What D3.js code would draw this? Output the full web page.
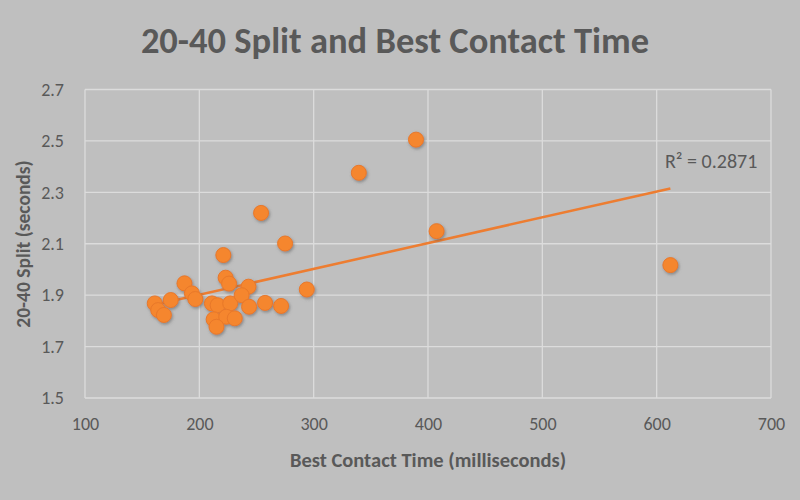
<!DOCTYPE html>
<html>
<head>
<meta charset="utf-8">
<script src="https://cdn.jsdelivr.net/npm/d3@7/dist/d3.min.js"></script>
<style>
  html, body { margin: 0; padding: 0; background: #bfbfbf; }
  svg { display: block; }
  text { font-family: "Carlito", "Lato", sans-serif; fill: #595959; }
</style>
</head>
<body>
<svg id="chart" width="800" height="500"></svg>
<script>
// Best contact time (ms)
const contactTime = [161, 164, 169, 175, 187, 193.5, 196.5, 211, 216, 227,
  212.5, 223.5, 231, 215, 221, 223, 226, 243, 237, 243.5,
  257.5, 271.5, 275, 294, 254, 339.5, 389.5, 407.5, 612];
// 20-40 split (seconds)
const split = [1.868, 1.842, 1.823, 1.881, 1.946, 1.907, 1.885, 1.868, 1.861, 1.868,
  1.806, 1.816, 1.810, 1.777, 2.056, 1.968, 1.945, 1.933, 1.900, 1.855,
  1.870, 1.858, 2.101, 1.922, 2.220, 2.376, 2.505, 2.149, 2.017];
const xTicks = [100, 200, 300, 400, 500, 600, 700];
const yTicks = [1.5, 1.7, 1.9, 2.1, 2.3, 2.5, 2.7];
const titleText = "20-40 Split and Best Contact Time";
const xTitle = "Best Contact Time (milliseconds)";
const yTitle = "20-40 Split (seconds)";
const r2Label = "R² = 0.2871";

const FONT = '"Carlito", "Lato", sans-serif';
const svg = d3.select("#chart");
const margin = { left: 85, right: 29, top: 89.5, bottom: 102 };
const W = 800, H = 500;
const x = d3.scaleLinear().domain([100, 700]).range([margin.left, W - margin.right]);
const y = d3.scaleLinear().domain([1.5, 2.7]).range([H - margin.bottom, margin.top]);

svg.append("rect").attr("width", W).attr("height", H).attr("fill", "#bfbfbf");

const defs = svg.append("defs");
const f = defs.append("filter").attr("id", "shadow").attr("x", "-50%").attr("y", "-50%").attr("width", "200%").attr("height", "200%");
f.append("feDropShadow").attr("dx", 1).attr("dy", 1.5).attr("stdDeviation", 1.5)
  .attr("flood-color", "#555").attr("flood-opacity", 0.55);

// gridlines
svg.append("g").selectAll("line").data(yTicks).join("line")
  .attr("x1", x(100)).attr("x2", x(700))
  .attr("y1", d => y(d)).attr("y2", d => y(d))
  .attr("stroke", "#dcdcdc").attr("stroke-width", 1.3);
svg.append("g").selectAll("line").data(xTicks).join("line")
  .attr("y1", y(1.5)).attr("y2", y(2.7))
  .attr("x1", d => x(d)).attr("x2", d => x(d))
  .attr("stroke", "#dcdcdc").attr("stroke-width", 1.3);

// axes (labels only)
const xAxis = d3.axisBottom(x).tickValues(xTicks).tickSize(0).tickPadding(19).tickFormat(d3.format("d"));
const gx = svg.append("g").attr("transform", `translate(0,${y(1.5)})`).call(xAxis);
gx.select(".domain").remove();
gx.selectAll("text").attr("font-size", 18).attr("fill", "#595959").style("font-family", FONT);

const yAxis = d3.axisLeft(y).tickValues(yTicks).tickSize(0).tickPadding(21).tickFormat(d3.format(".1f"));
const gy = svg.append("g").attr("transform", `translate(${x(100)},0)`).call(yAxis);
gy.select(".domain").remove();
gy.selectAll("text").attr("font-size", 18).attr("fill", "#595959").style("font-family", FONT);

// trendline (least squares)
const n = contactTime.length;
const mx = d3.mean(contactTime), my = d3.mean(split);
let sxy = 0, sxx = 0;
for (let i = 0; i < n; i++) { sxy += (contactTime[i] - mx) * (split[i] - my); sxx += (contactTime[i] - mx) ** 2; }
const slope = sxy / sxx, intercept = my - slope * mx;
const x0 = d3.min(contactTime), x1 = d3.max(contactTime);
svg.append("line")
  .attr("x1", x(x0)).attr("y1", y(intercept + slope * x0))
  .attr("x2", x(x1)).attr("y2", y(intercept + slope * x1))
  .attr("stroke", "#ED7D31").attr("stroke-width", 2.5);

// points
const pts = contactTime.map((c, i) => ({ c, s: split[i] }));
svg.append("g").attr("filter", "url(#shadow)").selectAll("circle").data(pts).join("circle")
  .attr("cx", d => x(d.c)).attr("cy", d => y(d.s)).attr("r", 7.5)
  .attr("fill", "#F5862E").attr("stroke", "#E8782A").attr("stroke-width", 1);

// titles
svg.append("text").attr("x", 395).attr("y", 53).attr("text-anchor", "middle")
  .attr("font-size", 36.5).attr("font-weight", "bold").text(titleText);
svg.append("text").attr("x", 428).attr("y", 467).attr("text-anchor", "middle")
  .attr("font-size", 20.5).attr("font-weight", "bold").text(xTitle);
svg.append("text").attr("transform", "translate(30,244) rotate(-90)").attr("text-anchor", "middle")
  .attr("font-size", 19.5).attr("font-weight", "bold").text(yTitle);
svg.append("text").attr("x", 665).attr("y", 168).attr("font-size", 20).text(r2Label);
</script>
</body>
</html>
